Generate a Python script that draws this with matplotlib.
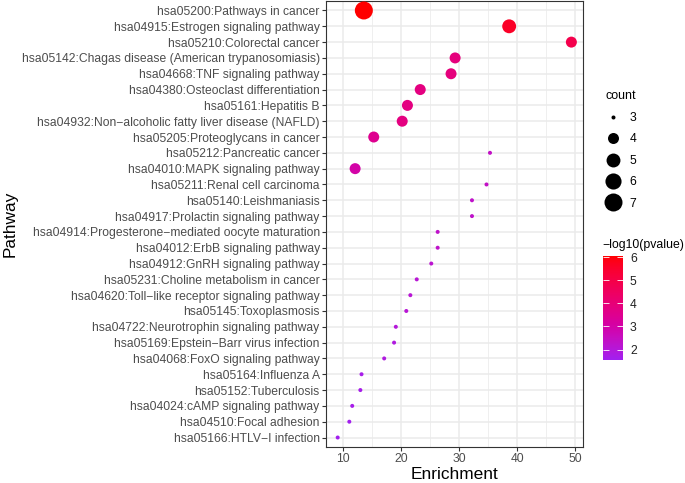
import numpy as np
import matplotlib
matplotlib.use("Agg")
import matplotlib.pyplot as plt
from matplotlib.colors import ListedColormap, Normalize
from matplotlib.lines import Line2D
import matplotlib.colorbar as mcolorbar

plt.rcParams['font.family'] = ['Liberation Sans', 'DejaVu Sans']

pathways = [
    "hsa05200:Pathways in cancer",
    "hsa04915:Estrogen signaling pathway",
    "hsa05210:Colorectal cancer",
    "hsa05142:Chagas disease (American trypanosomiasis)",
    "hsa04668:TNF signaling pathway",
    "hsa04380:Osteoclast differentiation",
    "hsa05161:Hepatitis B",
    "hsa04932:Non\u2212alcoholic fatty liver disease (NAFLD)",
    "hsa05205:Proteoglycans in cancer",
    "hsa05212:Pancreatic cancer",
    "hsa04010:MAPK signaling pathway",
    "hsa05211:Renal cell carcinoma",
    "hsa05140:Leishmaniasis",
    "hsa04917:Prolactin signaling pathway",
    "hsa04914:Progesterone\u2212mediated oocyte maturation",
    "hsa04012:ErbB signaling pathway",
    "hsa04912:GnRH signaling pathway",
    "hsa05231:Choline metabolism in cancer",
    "hsa04620:Toll\u2212like receptor signaling pathway",
    "hsa05145:Toxoplasmosis",
    "hsa04722:Neurotrophin signaling pathway",
    "hsa05169:Epstein\u2212Barr virus infection",
    "hsa04068:FoxO signaling pathway",
    "hsa05164:Influenza A",
    "hsa05152:Tuberculosis",
    "hsa04024:cAMP signaling pathway",
    "hsa04510:Focal adhesion",
    "hsa05166:HTLV\u2212I infection",
]
enrichment = [13.6, 38.6, 49.3, 29.3, 28.6, 23.3, 21.1, 20.2, 15.3, 35.3,
              12.1, 34.7, 32.2, 32.2, 26.3, 26.3, 25.2, 22.7, 21.6, 20.9,
              19.1, 18.8, 17.1, 13.2, 13.0, 11.6, 11.1, 9.1]
count = [7, 5, 4, 4, 4, 4, 4, 4, 4, 3,
         4, 3, 3, 3, 3, 3, 3, 3, 3, 3,
         3, 3, 3, 3, 3, 3, 3, 3]
neglogp = [6.05, 5.6, 4.9, 3.9, 3.9, 3.8, 3.8, 3.8, 3.5, 2.4,
           3.0, 2.4, 2.3, 2.3, 2.3, 2.3, 2.2, 2.1, 2.1, 2.1,
           2.0, 1.9, 1.9, 1.7, 1.7, 1.7, 1.6, 1.6]
size_breaks = [3, 4, 5, 6, 7]
color_ticks = [2, 3, 4, 5, 6]
cmin, cmax = 1.55, 6.05


# ---- Lab interpolation (like ggplot scale_colour_gradient purple->red)
def srgb_to_lab(rgb):
    rgb = np.asarray(rgb, float)
    lin = np.where(rgb <= 0.04045, rgb / 12.92, ((rgb + 0.055) / 1.055) ** 2.4)
    M = np.array([[0.4124, 0.3576, 0.1805], [0.2126, 0.7152, 0.0722], [0.0193, 0.1192, 0.9505]])
    xyz = lin @ M.T
    wp = np.array([0.95047, 1.0, 1.08883])
    t = xyz / wp
    f = np.where(t > (6/29) ** 3, np.cbrt(t), t / (3 * (6/29) ** 2) + 4/29)
    L = 116 * f[..., 1] - 16
    a = 500 * (f[..., 0] - f[..., 1])
    b = 200 * (f[..., 1] - f[..., 2])
    return np.stack([L, a, b], -1)


def lab_to_srgb(lab):
    lab = np.asarray(lab, float)
    fy = (lab[..., 0] + 16) / 116
    fx = fy + lab[..., 1] / 500
    fz = fy - lab[..., 2] / 200
    f = np.stack([fx, fy, fz], -1)
    t = np.where(f > 6/29, f ** 3, 3 * (6/29) ** 2 * (f - 4/29))
    xyz = t * np.array([0.95047, 1.0, 1.08883])
    Minv = np.linalg.inv(np.array([[0.4124, 0.3576, 0.1805], [0.2126, 0.7152, 0.0722], [0.0193, 0.1192, 0.9505]]))
    lin = xyz @ Minv.T
    lin = np.clip(lin, 0, 1)
    rgb = np.where(lin <= 0.0031308, 12.92 * lin, 1.055 * lin ** (1/2.4) - 0.055)
    return np.clip(rgb, 0, 1)


low = srgb_to_lab(np.array([160, 32, 240]) / 255)
high = srgb_to_lab(np.array([255, 0, 0]) / 255)
tt = np.linspace(0, 1, 256)[:, None]
cmap = ListedColormap(lab_to_srgb(low * (1 - tt) + high * tt))
norm = Normalize(cmin, cmax)


def marker_area(c):
    size = 1 + 5 * np.sqrt((np.asarray(c, float) - 3) / 4)
    d_px = 2.8 * size + 1.2
    return (d_px * 0.72) ** 2


W, H = 685, 483
fig = plt.figure(figsize=(W / 100, H / 100), dpi=100)
ax = fig.add_axes([326 / W, 1 - 447 / H, (583 - 326) / W, (447 - 1) / H])

n = len(pathways)
ypos = np.arange(n)[::-1]
ax.set_xlim(7.09, 51.3)
ax.set_ylim(-0.6, n - 0.4)
ax.set_xticks([10, 20, 30, 40, 50])
ax.set_xticks([15, 25, 35, 45], minor=True)
ax.set_yticks(ypos)
ax.set_yticklabels(pathways)
ax.grid(True, which='major', color='#EBEBEB', lw=1.1, zorder=0)
ax.grid(True, which='minor', axis='x', color='#EBEBEB', lw=0.55, zorder=0)
ax.set_axisbelow(True)
for s in ax.spines.values():
    s.set_color('#333333')
    s.set_linewidth(0.8)
ax.tick_params(axis='both', which='major', length=3, width=0.8, color='#333333',
               labelcolor='#4D4D4D', labelsize=8.7, pad=1.5)
ax.tick_params(axis='x', which='minor', length=0)

ax.scatter(enrichment, ypos, s=marker_area(count), c=neglogp, cmap=cmap, norm=norm,
           edgecolors='none', zorder=3)
ax.set_xlabel("Enrichment", fontsize=12.4, labelpad=1.5)
ax.set_ylabel("Pathway", fontsize=12.4, labelpad=3)

# size legend
handles = [Line2D([], [], ls='none', marker='o', color='black',
                  markersize=np.sqrt(marker_area(c)), markeredgewidth=0) for c in size_breaks]
leg = fig.legend(handles, [str(c) for c in size_breaks], title="count",
                 loc='upper left', bbox_to_anchor=(597 / W, 1 - 82 / H), frameon=False,
                 fontsize=8.7, title_fontsize=9, labelspacing=0.78, handlelength=1.3,
                 handletextpad=0.7, borderpad=0.2)
leg._legend_box.align = "left"

# colorbar
cax = fig.add_axes([603 / W, 1 - 360 / H, 20 / W, 104 / H])
cb = mcolorbar.ColorbarBase(cax, cmap=cmap, norm=norm, orientation='vertical')
cb.set_ticks(color_ticks)
cb.outline.set_visible(False)
cax.tick_params(axis='y', direction='in', color='white', length=4, width=0.6,
                left=True, right=True, labelsize=8.7, labelcolor='#222222', pad=5)
fig.text(602 / W, 1 - 245 / H, "\u2212log10(pvalue)", fontsize=8.8, va='center', ha='left')

fig.savefig("out.png", dpi=100)
